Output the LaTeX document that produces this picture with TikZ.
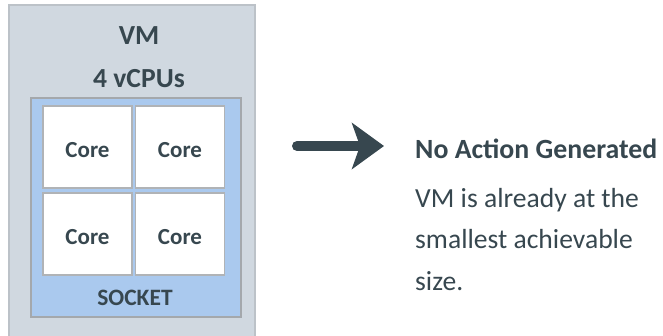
\documentclass[tikz,border=0pt]{standalone}
\usepackage{fontspec}
\setmainfont{Carlito}
\usetikzlibrary{arrows.meta}
\definecolor{vmfill}{HTML}{D0D8E0}
\definecolor{vmline}{HTML}{BCC2C8}
\definecolor{sockfill}{HTML}{AAC9EE}
\definecolor{sockline}{HTML}{A4A8AC}
\definecolor{coreline}{HTML}{B0B3B6}
\definecolor{ink}{HTML}{37474F}
\tikzset{
  vmbox/.style={fill=vmfill, inner sep=0pt, minimum width=246pt, minimum height=332pt},
  sockbox/.style={fill=sockfill, draw=sockline, line width=1.6pt, inner sep=0pt, minimum width=210pt, minimum height=219pt},
  corebox/.style={fill=white, draw=coreline, line width=1.6pt, inner sep=0pt, minimum width=89pt, minimum height=82pt, text=ink, text height=20.5pt, text depth=0pt, font=\bfseries\fontsize{23}{26}\selectfont},
  bigtext/.style={text=ink, inner sep=0pt, font=\bfseries\fontsize{27.6}{30}\selectfont},
  socktext/.style={text=ink, inner sep=0pt, font=\bfseries\fontsize{23.5}{26}\selectfont},
  headtext/.style={text=ink, inner sep=0pt, anchor=base west, font=\bfseries\fontsize{27.8}{30}\selectfont},
  bodytext/.style={text=ink, inner sep=0pt, anchor=base west, font=\fontsize{27.6}{30}\selectfont},
  bigarrow/.style={draw=ink, line width=10pt, line cap=round, -{Stealth[length=32pt, width=46pt, inset=8pt]}}
}
\begin{document}
\begin{tikzpicture}[x=1pt, y=-1pt]
\useasboundingbox (0,0) rectangle (663,335);
\node[vmbox] (vm) at (132,171) {};
\draw[vmline, line width=1.6pt] (vm.south west) -- (vm.north west) -- (vm.north east) -- (vm.south east);
\node[bigtext] (vmlabel) at (139,36) {VM};
\node[bigtext] (cpus) at (139,79) {4 vCPUs};
\node[sockbox] (socket) at (136,207.5) {};
\node[corebox] (c1) at (87.5,147) {Core};
\node[corebox] (c2) at (180,147) {Core};
\node[corebox] (c3) at (87.5,234) {Core};
\node[corebox] (c4) at (180,234) {Core};
\node[socktext] (socklabel) at (135,298) {SOCKET};
\coordinate (a0) at (297,146);
\coordinate (a1) at (384,146);
\draw[bigarrow] (a0) -- (a1);
\node[headtext] (head) at (415,158) {No Action Generated};
\node[bodytext] (l1) at (415,207) {VM is already at the};
\node[bodytext] (l2) at (415,248) {smallest achievable};
\node[bodytext] (l3) at (415,290) {size.};
\end{tikzpicture}
\end{document}
